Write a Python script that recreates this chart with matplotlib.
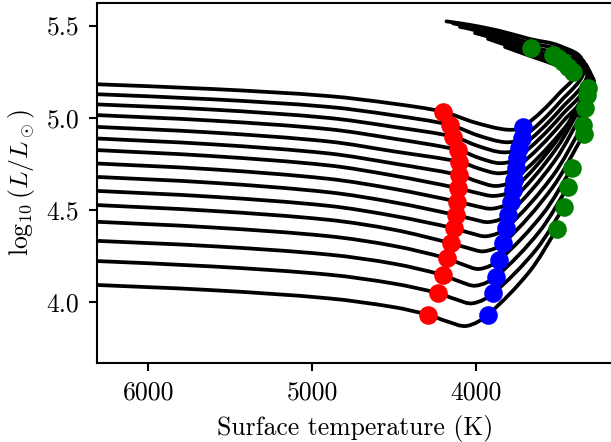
import numpy as np
import matplotlib
matplotlib.use("Agg")
import matplotlib.pyplot as plt
from matplotlib.path import Path
from matplotlib.patches import PathPatch

plt.rcParams['font.family'] = 'serif'
plt.rcParams['font.serif'] = ['cmr10']
plt.rcParams['mathtext.fontset'] = 'cm'
plt.rcParams['axes.formatter.use_mathtext'] = True
plt.rcParams['axes.unicode_minus'] = False

# ---------------- data ----------------
grid_T = [6400, 5600, 4900, 4500]
L_6400 = [5.185, 5.131, 5.076, 5.018, 4.954, 4.891, 4.828, 4.755, 4.682, 4.606, 4.529, 4.438, 4.334, 4.224, 4.094]
L_5600 = [5.156, 5.100, 5.044, 4.984, 4.919, 4.855, 4.791, 4.719, 4.646, 4.570, 4.493, 4.403, 4.301, 4.191, 4.062]
L_4900 = [5.118, 5.059, 4.999, 4.938, 4.871, 4.806, 4.741, 4.668, 4.595, 4.521, 4.445, 4.356, 4.256, 4.147, 4.018]
L_4500 = [5.076, 5.013, 4.950, 4.886, 4.817, 4.751, 4.685, 4.613, 4.540, 4.466, 4.391, 4.303, 4.206, 4.098, 3.970]

red_T = [4203, 4159, 4138, 4108, 4102, 4104, 4108, 4114, 4122, 4134, 4153, 4179, 4203, 4230, 4291]
red_L = [5.033, 4.961, 4.897, 4.825, 4.761, 4.689, 4.617, 4.544, 4.471, 4.399, 4.318, 4.236, 4.145, 4.046, 3.928]

dip_T = [4006, 3988, 3987, 3980, 3980, 3989, 3997, 4006, 4021, 4034, 4051, 4077, 4101, 4124, 4174]
dip_L = [4.974, 4.904, 4.846, 4.781, 4.723, 4.653, 4.592, 4.521, 4.449, 4.373, 4.292, 4.201, 4.110, 4.013, 3.892]

min_T = [3809, 3819, 3836, 3852, 3860, 3875, 3886, 3898, 3919, 3933, 3949, 3977, 4000, 4020, 4057]
min_L = [4.935, 4.867, 4.812, 4.753, 4.698, 4.629, 4.575, 4.506, 4.433, 4.356, 4.274, 4.178, 4.087, 3.991, 3.868]

blue_T = [3711, 3721, 3736, 3748, 3756, 3768, 3776, 3788, 3807, 3817, 3833, 3858, 3878, 3894, 3929]
blue_L = [4.952, 4.889, 4.834, 4.780, 4.725, 4.662, 4.607, 4.544, 4.471, 4.399, 4.318, 4.227, 4.136, 4.046, 3.928]

rise_T = [3497, 3489, 3484, 3482, 3478, 3475, 3500, 3509, 3523, 3535, 3538, 3592, 3614, 3636, 3675]
rise_L = [5.128, 5.085, 5.047, 5.009, 4.971, 4.928, 4.885, 4.834, 4.762, 4.680, 4.615, 4.477, 4.380, 4.280, 4.162]

top_T = [3353, 3335, 3317, 3304, 3292, 3280, 3317, 3323, 3335, 3347, 3341, 3414, 3439, 3463, 3506]
top_L = [5.303, 5.282, 5.260, 5.238, 5.216, 5.195, 5.162, 5.124, 5.053, 4.961, 4.912, 4.727, 4.624, 4.515, 4.395]

# return branch (top band) of the six most luminous tracks
band_T = [3487, 3670, 3854, 4037]
band_L = [
    [5.390, 5.428, 5.472, 5.505],
    [5.369, 5.407, 5.456, 5.494],
    [5.345, 5.387, 5.439, 5.483],
    [5.322, 5.369, 5.423],
    [5.300, 5.352, 5.407],
    [5.278, 5.336],
]
band_end_T = [4180, 4140, 4098, 4006, 3927, 3823]
band_end_L = [5.524, 5.513, 5.494, 5.461, 5.429, 5.385]

green_T = [3664, 3530, 3500, 3469, 3439, 3408, 3317, 3323, 3335, 3347, 3341, 3414, 3439, 3463, 3506]
green_L = [5.380, 5.342, 5.325, 5.303, 5.276, 5.249, 5.162, 5.124, 5.053, 4.961, 4.912, 4.727, 4.624, 4.515, 4.395]

x_ticks = [6000, 5000, 4000]
y_ticks = [4.0, 4.5, 5.0, 5.5]

# ---------------- figure ----------------
fig = plt.figure(figsize=(6.11, 4.42), dpi=100)
ax = fig.add_axes([0.15827, 0.17941, 0.84665, 0.81380])
ax.set_xlim(6314, 3158)
ax.set_ylim(3.668, 5.624)


def smooth_path(Ts, Ls):
    pts = ax.transData.transform(np.column_stack([Ts, Ls]))
    n = len(pts)
    tang = np.zeros_like(pts)
    for i in range(n):
        if i == 0:
            d = pts[1] - pts[0]
        elif i == n - 1:
            d = pts[-1] - pts[-2]
        else:
            d = pts[i + 1] - pts[i - 1]
        tang[i] = d / np.linalg.norm(d)
    verts = [pts[0]]
    codes = [Path.MOVETO]
    for i in range(n - 1):
        seg = np.linalg.norm(pts[i + 1] - pts[i]) / 3.0
        verts += [pts[i] + tang[i] * seg, pts[i + 1] - tang[i + 1] * seg, pts[i + 1]]
        codes += [Path.CURVE4] * 3
    verts = ax.transData.inverted().transform(np.array(verts))
    return Path(verts, codes)


for i in range(len(red_T)):
    Ts = list(grid_T) + [red_T[i], dip_T[i], min_T[i], blue_T[i], rise_T[i], top_T[i]]
    Ls = [L_6400[i], L_5600[i], L_4900[i], L_4500[i], red_L[i], dip_L[i],
          min_L[i], blue_L[i], rise_L[i], top_L[i]]
    if i < len(band_L):
        Ts += band_T[:len(band_L[i])] + [band_end_T[i]]
        Ls += band_L[i] + [band_end_L[i]]
    ax.add_patch(PathPatch(smooth_path(Ts, Ls), facecolor='none', edgecolor='black',
                           lw=2.7, capstyle='round', joinstyle='round', zorder=2))

ax.scatter(red_T, red_L, s=180, color='red', zorder=3, linewidths=0)
ax.scatter(blue_T, blue_L, s=180, color='blue', zorder=3, linewidths=0)
ax.scatter(green_T, green_L, s=180, color='green', zorder=3, linewidths=0)

ax.set_xticks(x_ticks)
ax.set_yticks(y_ticks)
ax.set_yticklabels([f"{v:.1f}" for v in y_ticks])
ax.set_xticklabels([str(v) for v in x_ticks])
ax.tick_params(labelsize=18.5, length=6.1, width=1.5, pad=6.6, direction='out')
for sp in ax.spines.values():
    sp.set_linewidth(1.5)

ax.set_xlabel('Surface temperature (K)', fontsize=18.5, labelpad=8)
ax.set_ylabel(r'$\log_{10}(L/L_\odot)$', fontsize=18.5, labelpad=7)

fig.savefig('out.png', dpi=100)
